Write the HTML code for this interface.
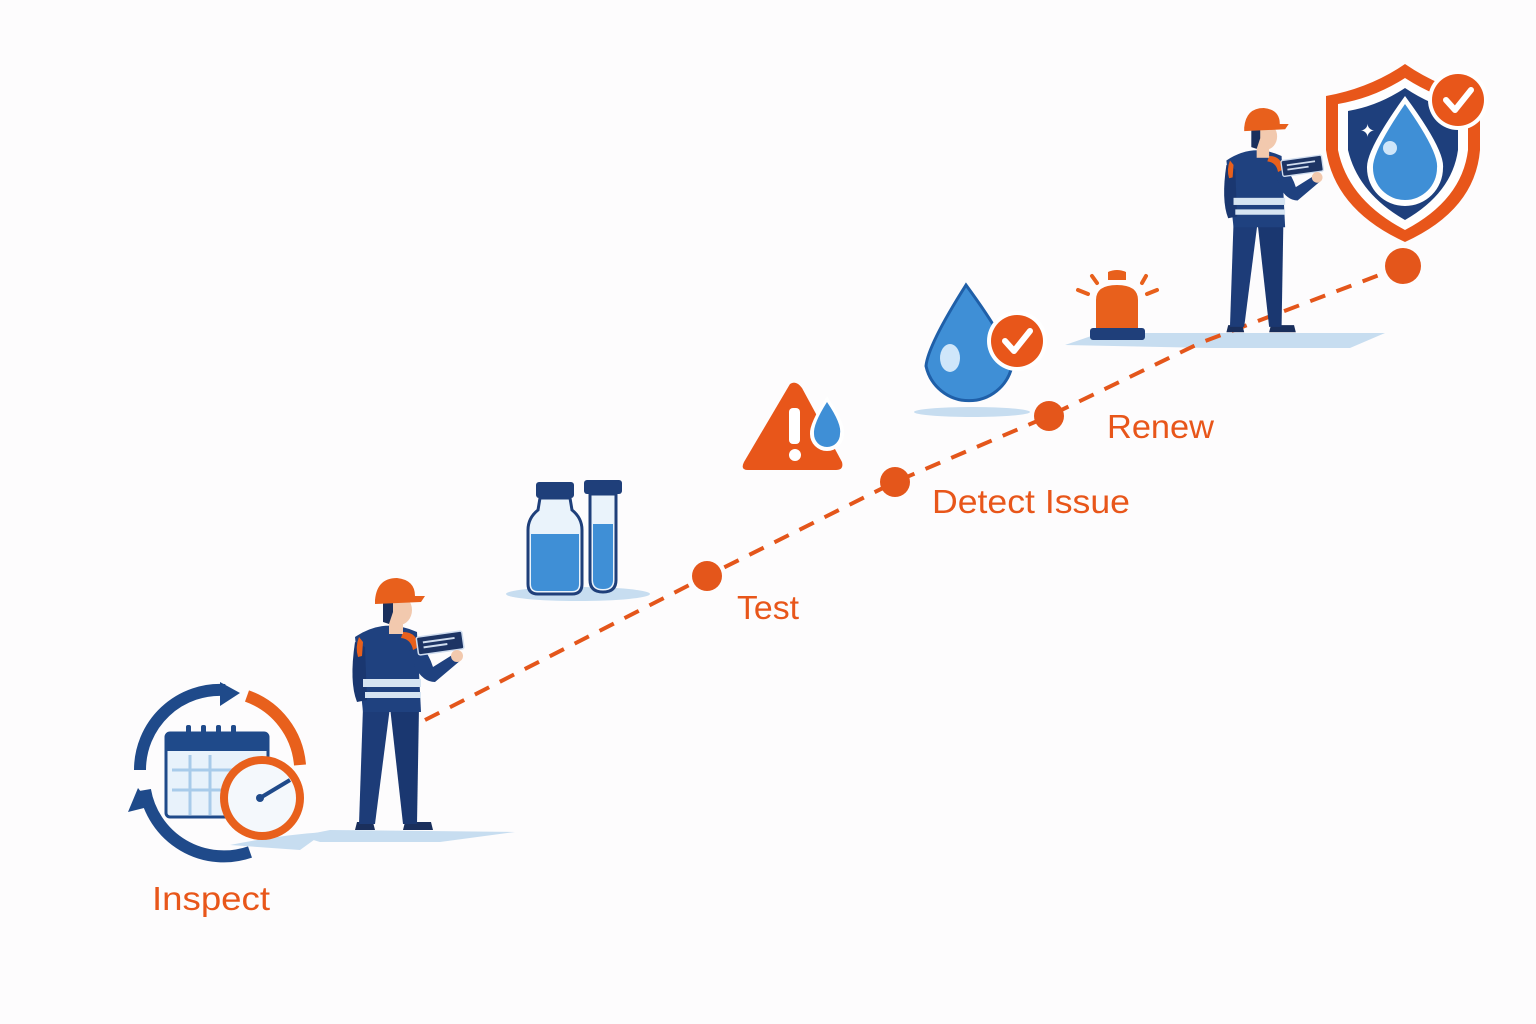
<!DOCTYPE html>
<html><head><meta charset="utf-8"><style>
html,body{margin:0;padding:0;background:#fdfcfd;}
svg{display:block}
text{font-family:"Liberation Sans",sans-serif;fill:#e8561a;font-size:33px;}
</style></head><body>
<svg width="1536" height="1024" viewBox="0 0 1536 1024" xmlns="http://www.w3.org/2000/svg">
<defs>
<g id="worker">
  <path d="M-40,-2 L-20,-2 L-22,-10 L-38,-10Z" fill="#1a2f5c"/>
  <path d="M8,-2 L38,-2 L36,-10 L10,-10Z" fill="#1a2f5c"/>
  <path d="M-32,-125 L-5,-125 L-20,-8 L-36,-8Z" fill="#1d3c78"/>
  <path d="M-5,-125 L24,-125 L22,-8 L8,-8Z" fill="#1a3770"/>
  <path d="M-40,-195 Q-10,-215 22,-200 L26,-120 L-32,-120Z" fill="#1f417f"/>
  <path d="M-40,-190 Q-46,-150 -38,-130 L-28,-132 L-30,-185Z" fill="#1a3770"/>
  <path d="M10,-196 Q30,-190 38,-165 L62,-180 L66,-172 L40,-150 Q28,-150 20,-165Z" fill="#1f417f"/>
  <rect x="-32" y="-153" width="58" height="8" fill="#d6e4f2"/>
  <rect x="-30" y="-140" width="56" height="6" fill="#d6e4f2"/>
  <path d="M-36,-195 Q-40,-185 -37,-175 L-33,-176 L-32,-190Z" fill="#e8601c"/>
  <path d="M8,-200 Q22,-200 24,-185 L18,-182 Q16,-193 6,-194Z" fill="#e8601c"/>
  <g transform="rotate(-8 45 -190)"><rect x="22" y="-198" width="46" height="18" rx="2" fill="#1d3464" stroke="#cfdcee" stroke-width="1.5"/><rect x="28" y="-193" width="32" height="2" fill="#cfdcee"/><rect x="28" y="-188" width="24" height="2" fill="#cfdcee"/></g>
  <circle cx="62" cy="-176" r="6" fill="#f2c9ae"/>
  <rect x="-6" y="-212" width="14" height="14" fill="#f2c9ae"/>
  <ellipse cx="4" cy="-222" rx="13" ry="15" fill="#f2c9ae"/>
  <path d="M-12,-232 L-2,-232 L-2,-220 L-6,-208 L-12,-210Z" fill="#1a2f5c"/>
  <path d="M-20,-232 Q-18,-254 2,-254 Q20,-252 20,-236 L30,-236 L26,-230 L-20,-228Z" fill="#e8601c"/>
</g>
</defs>

<path d="M300,836 L330,830 L515,832 L440,842 L320,842Z" fill="#c7ddf0"/>
<path d="M230,845 Q280,835 325,832 L300,850Z" fill="#c7ddf0"/>
<ellipse cx="578" cy="594" rx="72" ry="7" fill="#c7ddf0"/>
<ellipse cx="972" cy="412" rx="58" ry="5" fill="#c7ddf0"/>
<path d="M1065,345 L1100,333 L1385,333 L1350,348 L1210,348Z" fill="#c7ddf0"/>

<path d="M425,720 L707,576 L895,482 L1049,416 L1200,343 L1403,266" fill="none" stroke="#e4561b" stroke-width="4" stroke-dasharray="16,12"/>
<circle cx="707" cy="576" r="15" fill="#e4561b"/>
<circle cx="895" cy="482" r="15" fill="#e4561b"/>
<circle cx="1049" cy="416" r="15" fill="#e4561b"/>
<circle cx="1403" cy="266" r="18" fill="#e4561b"/>

<path d="M140,770 A80,80 0 0 1 225,690" fill="none" stroke="#1f4a8a" stroke-width="12"/>
<path d="M220,682 L240,693 L220,706Z" fill="#1f4a8a"/>
<path d="M247,696 A80,80 0 0 1 300,765" fill="none" stroke="#e8601c" stroke-width="12"/>
<path d="M145,790 A80,80 0 0 0 250,852" fill="none" stroke="#1f4a8a" stroke-width="12"/>
<path d="M128,812 L138,788 L152,806Z" fill="#1f4a8a"/>
<rect x="166" y="733" width="102" height="84" rx="4" fill="#e8f2fb" stroke="#1f4a8a" stroke-width="3"/>
<rect x="166" y="733" width="102" height="18" fill="#1f4a8a"/>
<g fill="#1f4a8a"><rect x="186" y="725" width="5" height="14" rx="2"/><rect x="201" y="725" width="5" height="14" rx="2"/><rect x="216" y="725" width="5" height="14" rx="2"/><rect x="231" y="725" width="5" height="14" rx="2"/></g>
<g stroke="#a8cbea" stroke-width="3"><line x1="172" y1="770" x2="262" y2="770"/><line x1="172" y1="790" x2="262" y2="790"/><line x1="190" y1="755" x2="190" y2="815"/><line x1="210" y1="755" x2="210" y2="815"/></g>
<circle cx="262" cy="798" r="42" fill="#e8601c"/>
<circle cx="262" cy="798" r="34" fill="#f4f8fc"/>
<line x1="260" y1="798" x2="290" y2="780" stroke="#1f4a8a" stroke-width="4"/>
<circle cx="260" cy="798" r="4" fill="#1f4a8a"/>

<use href="#worker" transform="translate(395,832)"/>
<use href="#worker" transform="translate(1262,334) scale(0.89)"/>

<rect x="536" y="482" width="38" height="16" rx="3" fill="#1f3f7a"/>
<path d="M540,498 L570,498 L572,510 Q582,518 582,530 L582,584 Q582,594 572,594 L538,594 Q528,594 528,584 L528,530 Q528,518 538,510Z" fill="#eaf3fb" stroke="#1f3f7a" stroke-width="3"/>
<path d="M531,534 L579,534 L579,584 Q579,591 572,591 L538,591 Q531,591 531,584Z" fill="#3f8fd6"/>
<rect x="584" y="480" width="38" height="14" rx="3" fill="#1f3f7a"/>
<path d="M590,494 L616,494 L616,580 Q616,592 603,592 Q590,592 590,580Z" fill="#eaf3fb" stroke="#1f3f7a" stroke-width="3"/>
<path d="M593,524 L613,524 L613,580 Q613,589 603,589 Q593,589 593,580Z" fill="#3f8fd6"/>

<path d="M790,384 Q796,380 802,388 L842,462 Q844,470 836,470 L748,470 Q740,470 744,462Z" fill="#e8561a"/>
<rect x="789" y="408" width="11" height="36" rx="4" fill="#fff"/>
<circle cx="795" cy="455" r="6" fill="#fff"/>
<path d="M827,396 Q846,424 844,434 A17,17 0 0 1 810,434 Q809,424 827,396Z" fill="#fff"/>
<path d="M827,402 Q842,424 840,434 A13,13 0 0 1 814,434 Q813,424 827,402Z" fill="#3f8fd6"/>

<path d="M966,285 Q1010,345 1012,366 A44,44 0 0 1 926,366 Q928,345 966,285Z" fill="#3f8fd6" stroke="#1f5fa8" stroke-width="3"/>
<ellipse cx="950" cy="358" rx="10" ry="14" fill="#cfe6fa"/>
<circle cx="1017" cy="341" r="30" fill="#fff"/>
<circle cx="1017" cy="341" r="26" fill="#e8561a"/>
<path d="M1005,341 L1014,351 L1030,331" fill="none" stroke="#fff" stroke-width="6" stroke-linecap="round" stroke-linejoin="round"/>

<rect x="1090" y="328" width="55" height="12" rx="3" fill="#1f3f7a"/>
<path d="M1096,328 L1096,300 Q1096,285 1117,285 Q1138,285 1138,300 L1138,328Z" fill="#e8601c"/>
<path d="M1108,272 Q1117,268 1126,272 L1126,280 L1108,280Z" fill="#e8601c"/>
<g stroke="#e8601c" stroke-width="4" stroke-linecap="round"><line x1="1078" y1="290" x2="1088" y2="294"/><line x1="1092" y1="276" x2="1097" y2="283"/><line x1="1142" y1="283" x2="1146" y2="276"/><line x1="1147" y1="294" x2="1157" y2="290"/></g>

<path d="M1405,64 Q1440,88 1480,96 L1480,150 Q1475,210 1405,242 Q1335,210 1326,150 L1326,96 Q1370,88 1405,64Z" fill="#e8561a"/>
<path d="M1405,78 Q1436,98 1468,104 L1468,150 Q1462,200 1405,230 Q1348,200 1338,150 L1338,104 Q1374,98 1405,78Z" fill="#fff"/>
<path d="M1405,88 Q1432,106 1458,111 L1458,150 Q1452,193 1405,220 Q1358,193 1348,150 L1348,111 Q1378,106 1405,88Z" fill="#1e3f7c"/>
<path d="M1405,96 Q1445,150 1443,168 A38,38 0 0 1 1367,168 Q1366,150 1405,96Z" fill="#fff"/>
<path d="M1405,104 Q1439,152 1437,168 A32,32 0 0 1 1373,168 Q1372,152 1405,104Z" fill="#3f8fd6"/>
<circle cx="1390" cy="148" r="7" fill="#cfe6fa"/>
<circle cx="1458" cy="100" r="30" fill="#fff"/>
<circle cx="1458" cy="100" r="26" fill="#e8561a"/>
<path d="M1446,100 L1455,110 L1471,90" fill="none" stroke="#fff" stroke-width="6" stroke-linecap="round" stroke-linejoin="round"/>
<text x="1360" y="137" style="fill:#fff;font-size:18px">✦</text>

<text x="152" y="910" textLength="118" lengthAdjust="spacingAndGlyphs">Inspect</text>
<text x="737" y="619" textLength="62" lengthAdjust="spacingAndGlyphs">Test</text>
<text x="932" y="513" textLength="198" lengthAdjust="spacingAndGlyphs">Detect Issue</text>
<text x="1107" y="438" textLength="107" lengthAdjust="spacingAndGlyphs">Renew</text>
</svg>
</body></html>
